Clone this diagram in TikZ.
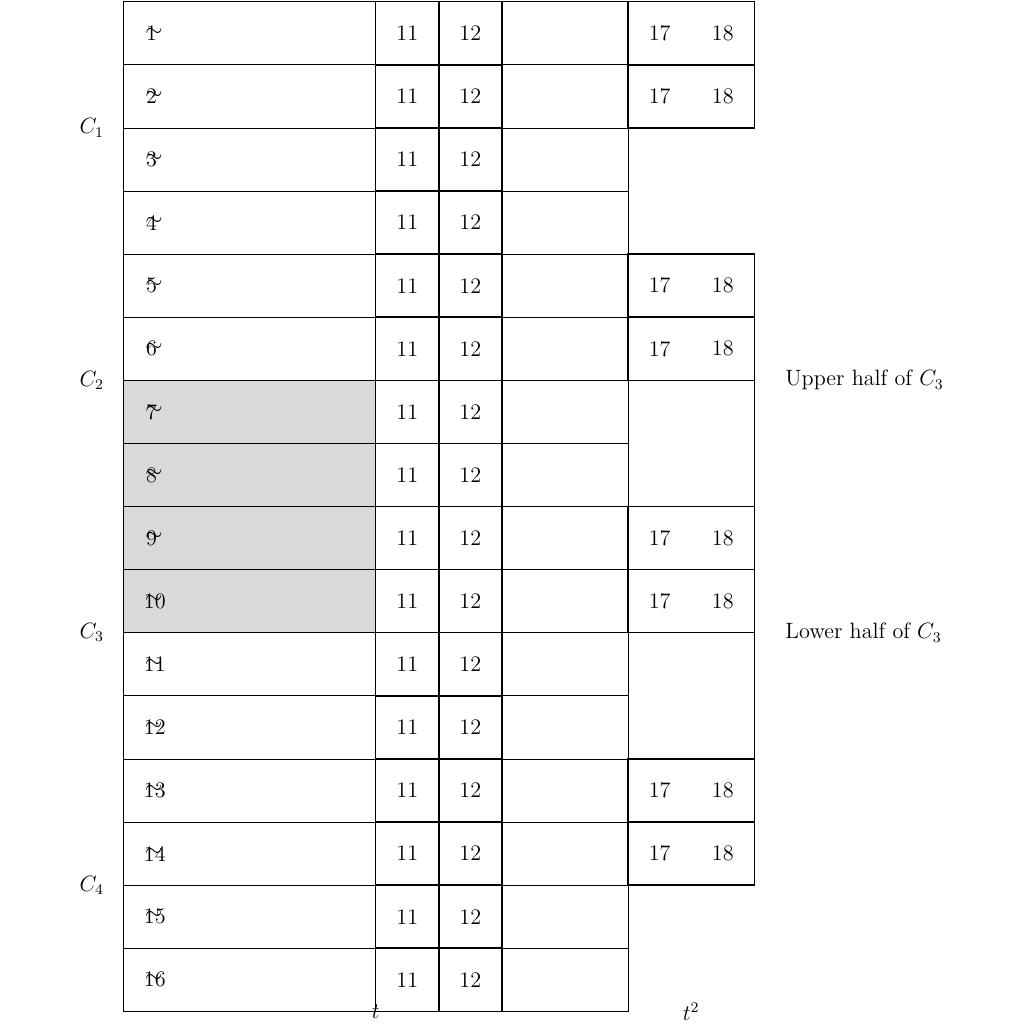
\documentclass[tikz,border=0pt]{standalone}
\newcommand\tlab[1]{\setbox0\hbox{#1}\setbox2\hbox{$\sim$}%
  \ifdim\wd0<\wd2 \hbox to\wd2{\rlap{\raise2.4pt\hbox{\kern-0.4pt$\sim$}}#1\hss}%
  \else\hbox{\rlap{\raise2.4pt\hbox{\kern0.6pt$\sim$}}#1}\fi}
\begin{document}
\begin{tikzpicture}[x=1.2cm,y=1.2cm,
  every node/.style={font=\large},
  thincell/.style={draw,line width=0.4pt},
  thickcell/.style={draw,line width=0.8pt},
  shade/.style={fill=black!15}]
\useasboundingbox (-1.954,0.027) rectangle (14.274,-16.201);
% grey cells
\fill[shade] (0,-6) rectangle (4,-10);
% thin grid
\foreach \r in {1,...,16}{
  \path[thincell] (0,1-\r) rectangle (4,-\r);
  \path[thincell] (6,1-\r) rectangle (8,-\r);
}
\path[thincell] (8,-4) rectangle (10,-14);
% thick cells
\foreach \r in {1,...,16}{
  \path[thickcell] (4,1-\r) rectangle (5,-\r);
  \path[thickcell] (5,1-\r) rectangle (6,-\r);
}
\foreach \r in {1,2,5,6,9,10,13,14}{
  \path[thickcell] (8,1-\r) rectangle (10,-\r);
  \node (s\r) at (8.5,0.5-\r) {17};
  \node (e\r) at (9.5,0.5-\r) {18};
}
% texts
\foreach \r in {1,...,16}{
  \node (n\r) at (0.5,0.5-\r) {\tlab{\r}};
  \node (a\r) at (4.5,0.5-\r) {11};
  \node (b\r) at (5.5,0.5-\r) {12};
}
\node (c1) at (-0.5,-2) {$C_1$};
\node (c2) at (-0.5,-6) {$C_2$};
\node (c3) at (-0.5,-10) {$C_3$};
\node (c4) at (-0.5,-14) {$C_4$};
\node[anchor=west] (up) at (10.39,-6) {Upper half of $C_3$};
\node[anchor=west] (lo) at (10.39,-10) {Lower half of $C_3$};
\node (t) at (4,-16) {$t$};
\node (tt) at (9,-16) {$t^2$};
\end{tikzpicture}
\end{document}
